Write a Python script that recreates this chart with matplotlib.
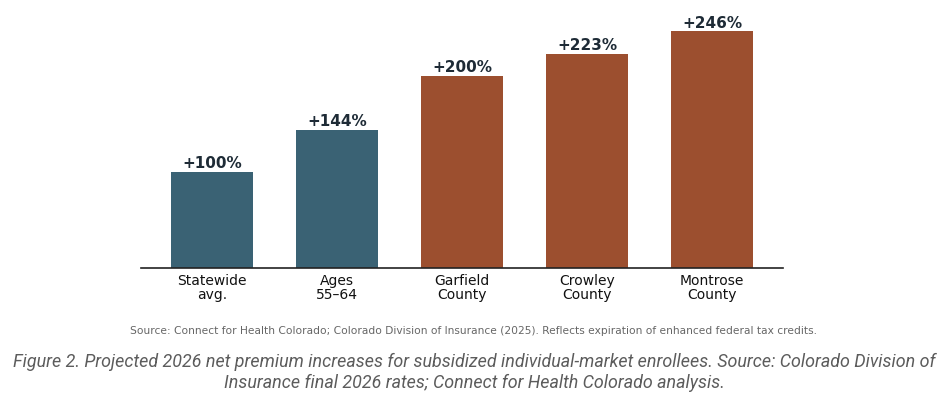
import matplotlib
matplotlib.use("Agg")
import matplotlib.pyplot as plt

categories = ["Statewide\navg.", "Ages\n55\u201364", "Garfield\nCounty", "Crowley\nCounty", "Montrose\nCounty"]
values = [100, 144, 200, 223, 246]
value_labels = ["+100%", "+144%", "+200%", "+223%", "+246%"]
groups = ["base", "base", "county", "county", "county"]

colors = {"base": "#3a6274", "county": "#9c4f2f"}

plt.rcParams['font.family'] = ['DejaVu Sans']
fig = plt.figure(figsize=(9.48, 4.0), dpi=100)
ax = fig.add_axes([141/948, 132/400, 642/948, 250/400])

x = list(range(len(categories)))
bars = ax.bar(x, values, width=0.656, color=[colors[g] for g in groups],
              edgecolor="none", zorder=2)
for xi, v, lab in zip(x, values, value_labels):
    ax.text(xi, v + 0.8, lab, ha="center", va="bottom", fontsize=11,
            fontweight="bold", color="#1e2b36")

ax.set_xlim(-0.568, 4.568)
ax.set_ylim(0, 260)
ax.set_xticks(x)
ax.set_xticklabels(categories, fontsize=10, color="#111111", linespacing=1.0)
ax.tick_params(axis="x", length=0, pad=4)
ax.set_yticks([])
for s in ["top", "right", "left"]:
    ax.spines[s].set_visible(False)
ax.spines["bottom"].set_color("#222222")
ax.spines["bottom"].set_linewidth(1.2)

fig.text(473/948, 1 - 331/400,
         "Source: Connect for Health Colorado; Colorado Division of Insurance (2025). Reflects expiration of enhanced federal tax credits.",
         ha="center", va="center", fontsize=7.66, color="#666666")

fig.text(474/948, 1 - 372/400,
         "Figure 2. Projected 2026 net premium increases for subsidized individual-market enrollees. Source: Colorado Division of\nInsurance final 2026 rates; Connect for Health Colorado analysis.",
         ha="center", va="center", fontsize=12.9, style="italic", color="#5c5c5c",
         family=["Roboto"], linespacing=1.2)

fig.savefig("out.png", dpi=100)
